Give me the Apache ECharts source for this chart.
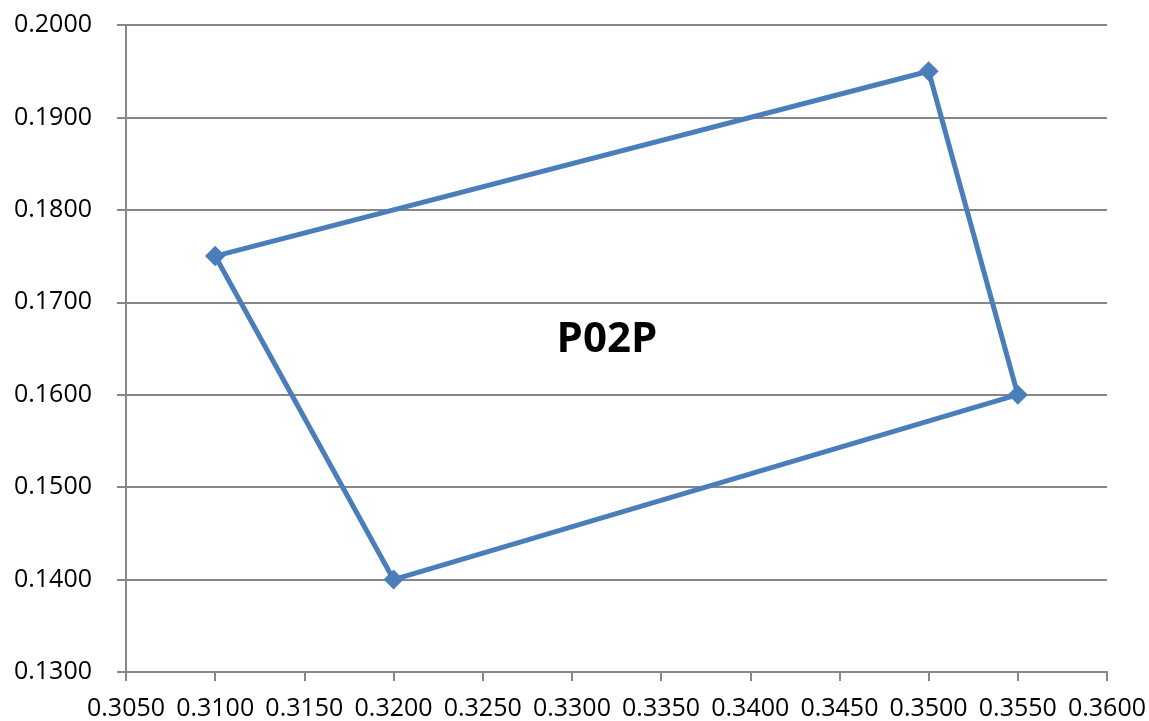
<!DOCTYPE html>
<html>
<head>
<meta charset="utf-8">
<script src="https://cdn.jsdelivr.net/npm/echarts@6/dist/echarts.min.js"></script>
<style>html,body{margin:0;padding:0;background:#fff}#c{width:1149px;height:721px}</style>
</head>
<body>
<div id="c"></div>
<script>
const xValues = [0.3100, 0.3500, 0.3550, 0.3200, 0.3100];
const yValues = [0.1750, 0.1950, 0.1600, 0.1400, 0.1750];
const chartLabel = "P02P";
const xRange = [0.305, 0.360, 0.005];
const yRange = [0.130, 0.200, 0.010];

const chart = echarts.init(document.getElementById('c'));
const axisGray = '#878787';
const font = '"Open Sans", "Noto Sans", sans-serif';
chart.setOption({
  animation: false,
  backgroundColor: '#ffffff',
  grid: {left: 126, right: 39, top: 25, bottom: 49, containLabel: false},
  xAxis: {
    type: 'value', min: xRange[0], max: xRange[1], interval: xRange[2],
    axisLine: {show: true, onZero: false, lineStyle: {color: axisGray, width: 2}},
    axisTick: {show: true, inside: false, length: 9, lineStyle: {color: axisGray, width: 2}},
    splitLine: {show: false},
    axisLabel: {color: '#000', fontSize: 25, fontFamily: font, margin: 24,
      formatter: v => v.toFixed(4), showMinLabel: true, showMaxLabel: true, hideOverlap: false}
  },
  yAxis: {
    type: 'value', min: yRange[0], max: yRange[1], interval: yRange[2],
    axisLine: {show: true, onZero: false, lineStyle: {color: axisGray, width: 2}},
    axisTick: {show: true, inside: false, length: 9, lineStyle: {color: axisGray, width: 2}},
    splitLine: {show: true, lineStyle: {color: axisGray, width: 2}},
    axisLabel: {color: '#000', fontSize: 25, fontFamily: font, margin: 34,
      formatter: v => v.toFixed(4)}
  },
  graphic: [{
    type: 'text', x: 607, y: 340,
    style: {text: chartLabel, font: 'bold 42px ' + font, fill: '#000', textAlign: 'center', textVerticalAlign: 'middle'}
  }],
  series: [{
    type: 'line',
    data: xValues.map((x, i) => [x, yValues[i]]),
    symbol: 'diamond', symbolSize: 20,
    lineStyle: {color: '#4a7ebb', width: 5},
    itemStyle: {color: '#4a7ebb'},
    z: 3
  }]
});
</script>
</body>
</html>
